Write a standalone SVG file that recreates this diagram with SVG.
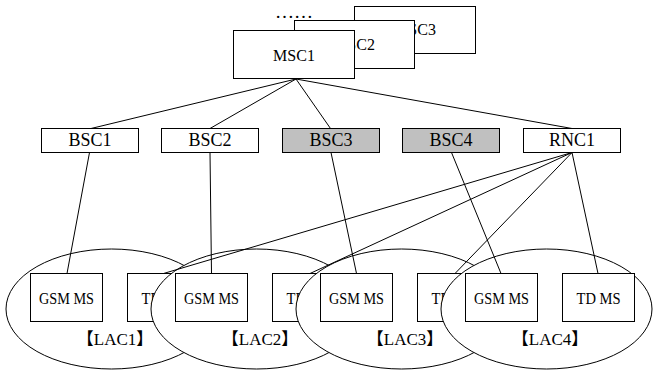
<svg xmlns="http://www.w3.org/2000/svg" width="653" height="370" viewBox="0 0 653 370">
<style>
.box{fill:#fff;stroke:#000;stroke-width:1}
.gray{fill:#c0c0c0;stroke:#000;stroke-width:1}
.ell{fill:#fff;stroke:#000;stroke-width:1}
text{font-family:'Liberation Serif',serif;fill:#000;text-anchor:middle}
.msc{font-size:16px}
.bsc{font-size:18px}
.ms{font-size:16px}
.lac{font-family:'Liberation Serif','Noto Sans CJK SC',serif;font-size:17px}
.ln{stroke:#000;stroke-width:1;fill:none}
</style>
<rect width="653" height="370" fill="#fff"/>
<text x="294" y="17.5" font-size="19">……</text>
<g id="msc3"><rect class="box" x="354.5" y="6.5" width="121" height="47"/><text class="msc" x="415" y="35">MSC3</text></g>
<g id="msc2"><rect class="box" x="294.5" y="20.5" width="120" height="48"/><text class="msc" x="354" y="49.5">MSC2</text></g>
<g id="msc1"><rect class="box" x="233.5" y="30.5" width="121" height="48"/><text class="msc" x="294" y="61">MSC1</text></g>
<g id="bsc1"><rect class="box" x="41.5" y="128.5" width="97" height="24"/><text class="bsc" x="90" y="146">BSC1</text></g>
<g id="bsc2"><rect class="box" x="161.5" y="128.5" width="97" height="24"/><text class="bsc" x="210" y="146">BSC2</text></g>
<g id="bsc3"><rect class="gray" x="282.5" y="128.5" width="97" height="24"/><text class="bsc" x="331" y="146">BSC3</text></g>
<g id="bsc4"><rect class="gray" x="402.5" y="128.5" width="97" height="24"/><text class="bsc" x="451" y="146">BSC4</text></g>
<g id="rnc1"><rect class="box" x="523.5" y="128.5" width="97" height="24"/><text class="bsc" x="572" y="146">RNC1</text></g>
<g id="lac1">
<ellipse class="ell" cx="111.5" cy="309" rx="105.5" ry="60"/>
<rect class="box" x="30.5" y="273.5" width="72" height="48"/><text class="ms" x="66.5" y="303.5" textLength="55" lengthAdjust="spacingAndGlyphs">GSM MS</text>
<rect class="box" x="127.5" y="273.5" width="72" height="48"/><text class="ms" x="163.5" y="303.5" textLength="44" lengthAdjust="spacingAndGlyphs">TD MS</text>
<text class="lac" x="115" y="345">【LAC1】</text>
</g>
<g id="lac2">
<ellipse class="ell" cx="256.5" cy="309" rx="105.5" ry="60"/>
<rect class="box" x="175.5" y="273.5" width="72" height="48"/><text class="ms" x="211.5" y="303.5" textLength="55" lengthAdjust="spacingAndGlyphs">GSM MS</text>
<rect class="box" x="272.5" y="273.5" width="72" height="48"/><text class="ms" x="308.5" y="303.5" textLength="44" lengthAdjust="spacingAndGlyphs">TD MS</text>
<text class="lac" x="260" y="345">【LAC2】</text>
</g>
<g id="lac3">
<ellipse class="ell" cx="401.5" cy="309" rx="105.5" ry="60"/>
<rect class="box" x="320.5" y="273.5" width="72" height="48"/><text class="ms" x="356.5" y="303.5" textLength="55" lengthAdjust="spacingAndGlyphs">GSM MS</text>
<rect class="box" x="417.5" y="273.5" width="72" height="48"/><text class="ms" x="453.5" y="303.5" textLength="44" lengthAdjust="spacingAndGlyphs">TD MS</text>
<text class="lac" x="405" y="345">【LAC3】</text>
</g>
<g id="lac4">
<ellipse class="ell" cx="546.5" cy="309" rx="105.5" ry="60"/>
<rect class="box" x="465.5" y="273.5" width="72" height="48"/><text class="ms" x="501.5" y="303.5" textLength="55" lengthAdjust="spacingAndGlyphs">GSM MS</text>
<rect class="box" x="562.5" y="273.5" width="72" height="48"/><text class="ms" x="598.5" y="303.5" textLength="44" lengthAdjust="spacingAndGlyphs">TD MS</text>
<text class="lac" x="550" y="345">【LAC4】</text>
</g>
<g id="connectors" class="ln">
<line x1="296" y1="79" x2="91" y2="128.5"/>
<line x1="296" y1="79" x2="210" y2="128.5"/>
<line x1="296" y1="79" x2="330.5" y2="128.5"/>
<line x1="296" y1="79" x2="572" y2="128.5"/>
<line x1="89.5" y1="152.5" x2="67" y2="273.5"/>
<line x1="210" y1="152.5" x2="211.5" y2="273.5"/>
<line x1="331" y1="152.5" x2="356.5" y2="273.5"/>
<line x1="451.5" y1="152.5" x2="501" y2="273.5"/>
<line x1="572" y1="152.5" x2="598" y2="273.5"/>
<line x1="572" y1="152.5" x2="455" y2="273.5"/>
<line x1="572" y1="152.5" x2="310" y2="273.5"/>
<line x1="572" y1="152.5" x2="163.5" y2="273.5"/>
</g>
</svg>
